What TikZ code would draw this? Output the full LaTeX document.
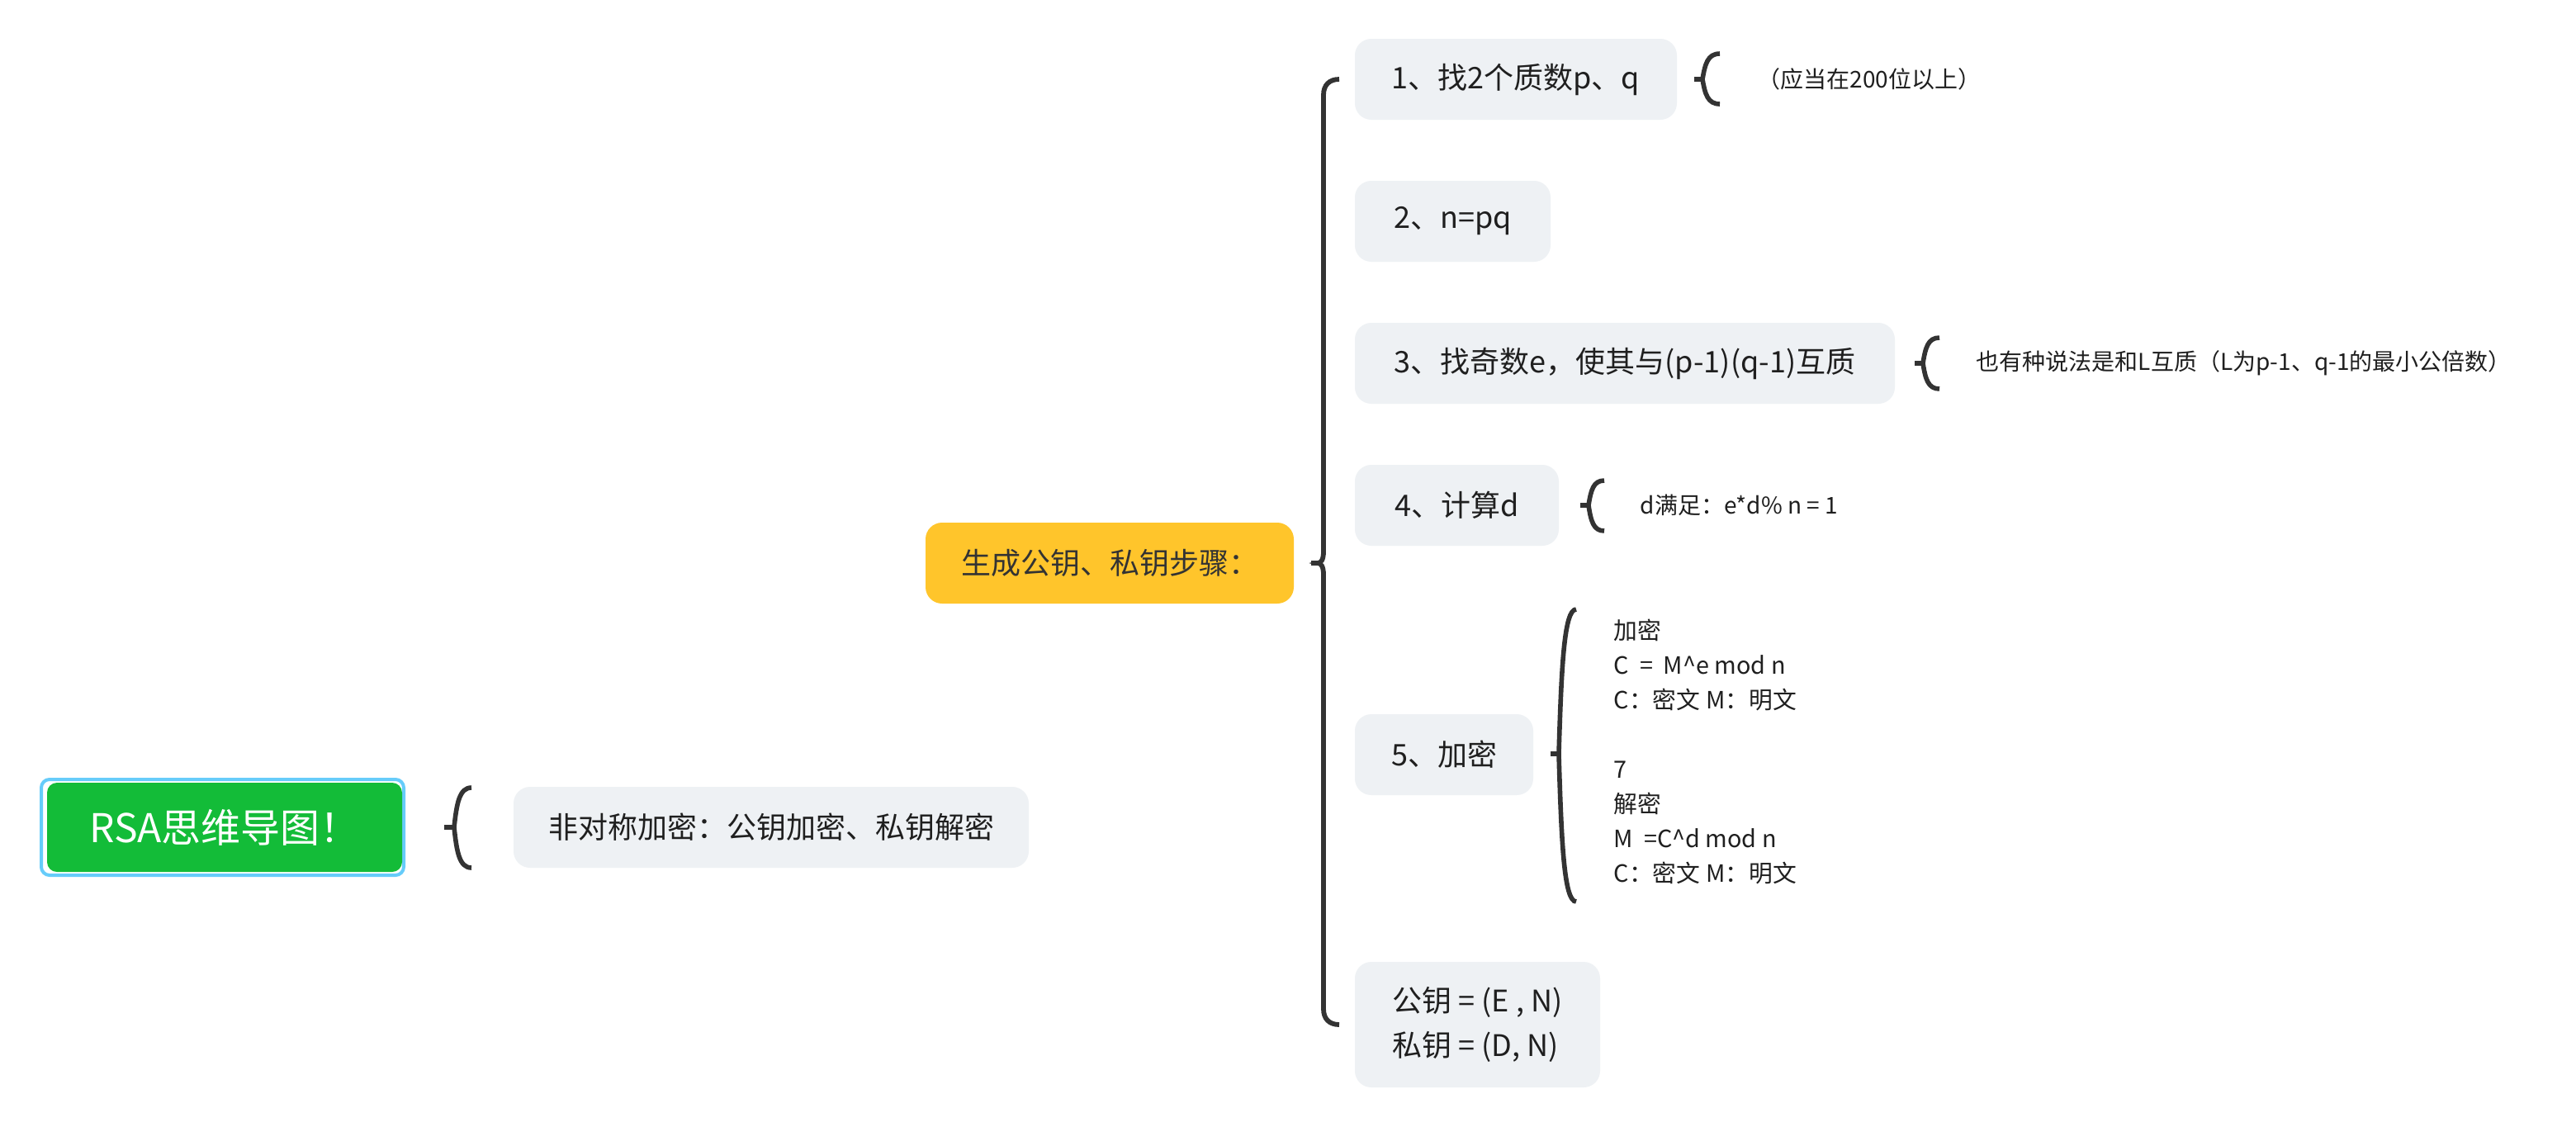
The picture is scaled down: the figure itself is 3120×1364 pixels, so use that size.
\documentclass[tikz,border=0pt]{standalone}
\usepackage{fontspec}
\setmainfont{Noto Sans CJK SC}
\newdimen\pxu \pxu=0.25pt
\definecolor{boxgray}{HTML}{EEF1F4}
\definecolor{yel}{HTML}{FFC52B}
\definecolor{grn}{HTML}{13BC38}
\definecolor{blu}{HTML}{66CCFA}
\definecolor{txt}{HTML}{1F1F1F}
\definecolor{brcol}{HTML}{333333}
\tikzset{
  box/.style={fill=boxgray, rounded corners=5pt, inner sep=0pt, text=txt, font=\fontsize{9}{13.5}\selectfont},
  note/.style={inner sep=0pt, anchor=west, text=txt, font=\fontsize{7}{10.5}\selectfont},
  brc/.style={draw=brcol, line width=1.4pt},
}
% #1 xl, #2 xc, #3 xr, #4 yt, #5 yb, #6 m
\newcommand\mybrace[6]{%
  \pgfmathsetmacro\mbP{#2+0.3*(#3-#2)}%
  \pgfmathsetmacro\mbQ{#2+0.15*(#3-#2)}%
  \pgfmathsetmacro\mbA{#4+0.4*(#6-#4)}%
  \pgfmathsetmacro\mbB{#6+0.6*(#5-#6)}%
  \draw[brc] (#3,#4) .. controls (\mbP,#4) and (\mbQ,\mbA) .. (#2,#6)
    .. controls (\mbQ,\mbB) and (\mbP,#5) .. (#3,#5);
  \draw[brc] (#1,#6) -- ({#2+1},#6);
}
\begin{document}
\begin{tikzpicture}[x=0.25pt,y=-0.25pt]
\useasboundingbox (0,0) rectangle (3120,1364);
\fill[white] (0,0) rectangle (3120,1364);

% root
\node[draw=blu, line width=1pt, rounded corners=2.5pt, inner sep=0pt,
  minimum width=439\pxu, minimum height=116\pxu] (rootb) at (269.5,1002) {};
\node[fill=grn, rounded corners=3pt, inner sep=0pt, text=white,
  minimum width=430\pxu, minimum height=108\pxu,
  font=\fontsize{12}{14}\selectfont] (root) at (272,1002) {RSA思维导图！};

\node[box, minimum width=624\pxu, minimum height=98\pxu] (asym) at (934,1002) {非对称加密：公钥加密、私钥解密};

\node[box, fill=yel, text=brcol, minimum width=446\pxu, minimum height=98\pxu] (gen) at (1344,682) {生成公钥、私钥步骤：};

\node[box, minimum width=390\pxu, minimum height=98\pxu] (n1) at (1836,96) {1、找2个质数p、q};
\node[box, minimum width=237\pxu, minimum height=98\pxu] (n2) at (1759.5,268) {2、n=pq};
\node[box, minimum width=654\pxu, minimum height=98\pxu] (n3) at (1968,440) {3、找奇数e，使其与(p-1)(q-1)互质};
\node[box, minimum width=247\pxu, minimum height=98\pxu] (n4) at (1764.5,612) {4、计算d};
\node[box, minimum width=216\pxu, minimum height=98\pxu] (n5) at (1749,914) {5、加密};
\node[box, minimum width=297\pxu, minimum height=152\pxu, align=left] (n6) at (1789.5,1241) {公钥 = (E , N)\\私钥 = (D, N)};

% notes
\node[note] (d1) at (2128,96) {（应当在200位以上）};
\node[note] (d3) at (2393,440) {也有种说法是和L互质（L为p-1、q-1的最小公倍数）};
\node[note] (d4) at (1986,612) {d满足：e*d\% n = 1};
\node[note, align=left, font=\fontsize{7.2}{10.5}\selectfont] (d5) at (1954,910) {加密\\C\ \ =\ \ M\textasciicircum e mod n\\C：密文 M：明文\\\mbox{}\\7\\解密\\M\ \ =C\textasciicircum d mod n\\C：密文 M：明文};

% main brace
\draw[brc, line width=1.45pt] (1622,96) .. controls (1610,96) and (1603,103) .. (1603,115)
  -- (1603,668) .. controls (1603,678) and (1600,682) .. (1596,682)
  .. controls (1600,682) and (1603,686) .. (1603,696)
  -- (1603,1222) .. controls (1603,1234) and (1610,1241) .. (1622,1241);
\draw[brc, line width=1.45pt] (1588,682) -- (1598,682);

% small braces
\mybrace{538}{550}{571}{954}{1051}{1002}
\mybrace{2052}{2062}{2083}{65}{126}{96}
\mybrace{2319}{2329}{2349}{409}{471}{440}
\mybrace{1914}{1924}{1943}{582}{643}{612}
\mybrace{1878}{1888}{1909}{738}{1092}{913}
\end{tikzpicture}
\end{document}
